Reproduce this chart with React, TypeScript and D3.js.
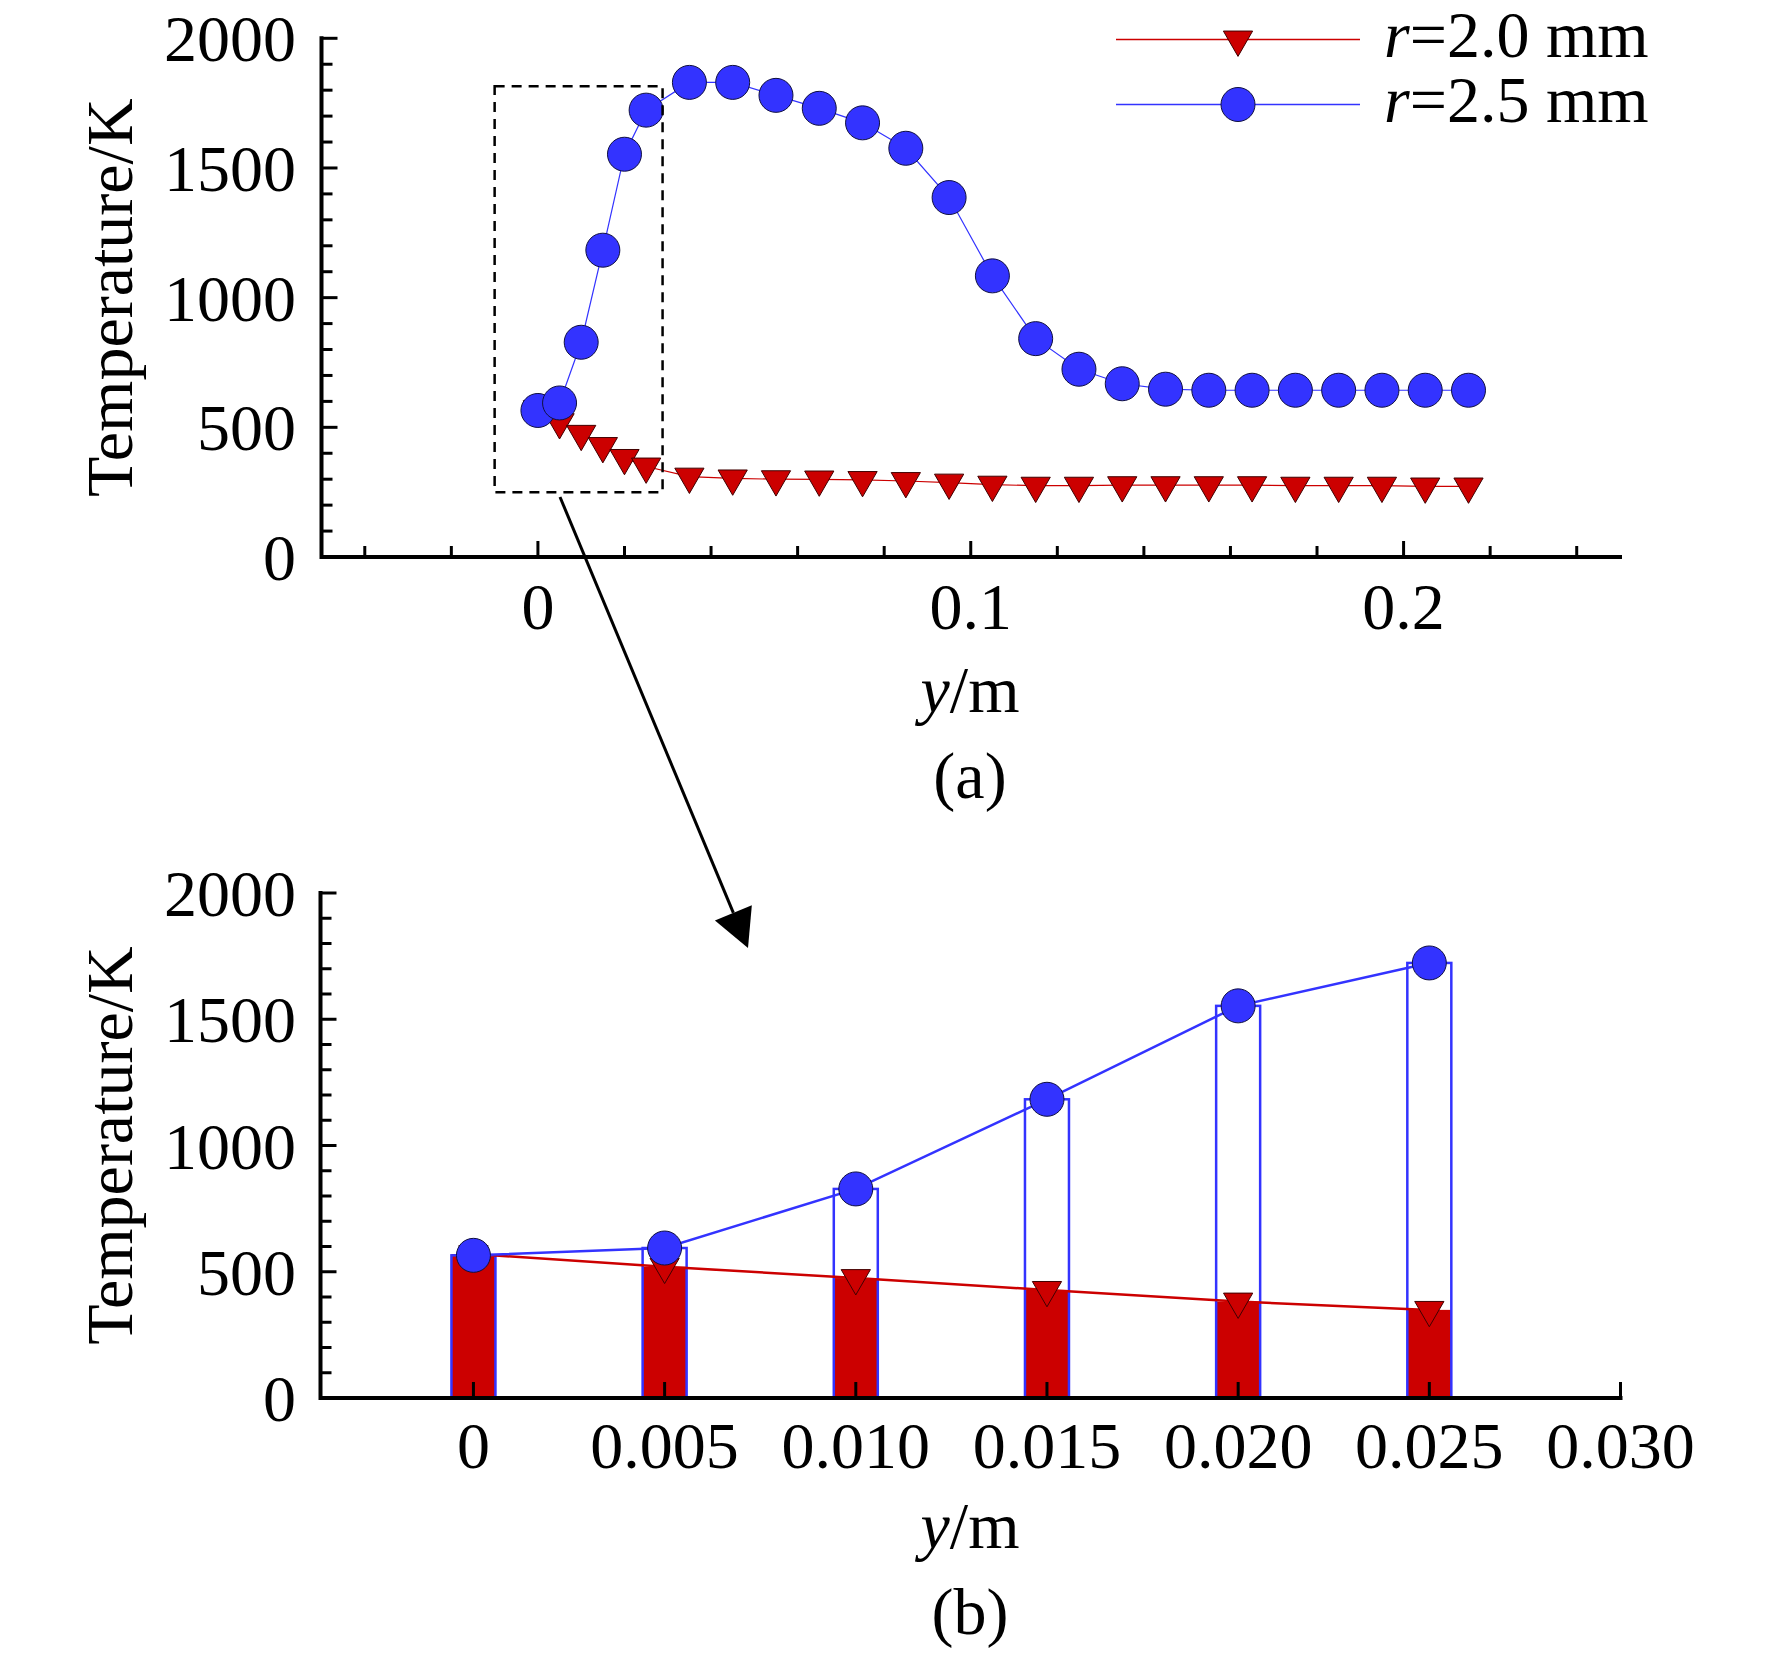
import React from "react";
import * as d3 from "d3";

// positions along y (m)
const yPos = [
  0, 0.005, 0.01, 0.015, 0.02, 0.025, 0.035, 0.045, 0.055, 0.065, 0.075, 0.085,
  0.095, 0.105, 0.115, 0.125, 0.135, 0.145, 0.155, 0.165, 0.175, 0.185, 0.195,
  0.205, 0.215,
];

// temperature for r = 2.5 mm (K)
const tempR25 = [
  565, 594, 828, 1183, 1553, 1723, 1830, 1830, 1780, 1730, 1674, 1576, 1386,
  1084, 842, 724, 668, 647, 643, 643, 643, 643, 643, 643, 643,
];

// temperature for r = 2.0 mm (K)
const tempR20 = [
  570, 520, 475, 428, 382, 349, 310, 303, 300, 299, 297, 293, 287, 279, 275,
  275, 277, 277, 277, 277, 275, 275, 275, 272, 272,
];

// number of leading points shown in the zoomed panel (b)
const zoomCount = 6;

const yTicks = [0, 500, 1000, 1500, 2000];
const topXTicks = [0, 0.1, 0.2];
const topXLabels = ["0", "0.1", "0.2"];
const bottomXTicks = [0, 0.005, 0.01, 0.015, 0.02, 0.025, 0.03];
const bottomXLabels = ["0", "0.005", "0.010", "0.015", "0.020", "0.025", "0.030"];

const legendLabels = ["2.0 mm", "2.5 mm"];

// zoom window marked in panel (a), in data units
const zoomBoxX = [-0.01, 0.0288];
const zoomBoxT = [250, 1815];

const FONT = '"Liberation Serif", "Times New Roman", Times, serif';
const RED = "#cc0000";
const BLUE = "#3333ff";
const FS = 66;

const triangle = d3.symbol(d3.symbolTriangle, 370)()!;

function Circle({ cx, cy }: { cx: number; cy: number }) {
  return <circle cx={cx} cy={cy} r={17} fill={BLUE} stroke="#101040" strokeWidth={1} />;
}

function Tri({ cx, cy }: { cx: number; cy: number }) {
  return (
    <path
      d={triangle}
      transform={`translate(${cx},${cy}) rotate(180)`}
      fill={RED}
      stroke="#400000"
      strokeWidth={1}
    />
  );
}

interface AxesProps {
  x: d3.ScaleLinear<number, number>;
  y: d3.ScaleLinear<number, number>;
  xMajor: number[];
  xLabels: string[];
  xMinor: number[];
  labelBase: number;
}

function Axes({ x, y, xMajor, xLabels, xMinor, labelBase }: AxesProps) {
  const [x0, x1] = x.range();
  const [yb, yt] = y.range();
  const yMinor = d3.range(0, 21).map((i) => i * 100).filter((v) => v % 500 !== 0);
  return (
    <g>
      {xMinor.map((v, i) => (
        <line key={"xm" + i} x1={x(v)} x2={x(v)} y1={yb} y2={yb - 11} stroke="#000" strokeWidth={3} />
      ))}
      {xMajor.map((v, i) => (
        <line key={"xM" + i} x1={x(v)} x2={x(v)} y1={yb} y2={yb - 16} stroke="#000" strokeWidth={3} />
      ))}
      {yMinor.map((v, i) => (
        <line key={"ym" + i} x1={x0} x2={x0 + 11} y1={y(v)} y2={y(v)} stroke="#000" strokeWidth={3} />
      ))}
      {yTicks.map((v, i) => (
        <line key={"yM" + i} x1={x0} x2={x0 + 16} y1={y(v)} y2={y(v)} stroke="#000" strokeWidth={3} />
      ))}
      <path
        d={`M${x0},${yt}V${yb}H${x1}`}
        fill="none"
        stroke="#000"
        strokeWidth={4}
        strokeLinecap="square"
      />
      {yTicks.map((v, i) => (
        <text key={"yl" + i} x={296} y={y(v) + 23} textAnchor="end" fontSize={FS} fontFamily={FONT}>
          {v}
        </text>
      ))}
      {xMajor.map((v, i) => (
        <text key={"xl" + i} x={x(v)} y={labelBase} textAnchor="middle" fontSize={FS} fontFamily={FONT}>
          {xLabels[i]}
        </text>
      ))}
      <text
        transform={`translate(132,${(yb + yt) / 2}) rotate(-90)`}
        textAnchor="middle"
        fontSize={FS}
        fontFamily={FONT}
      >
        Temperature/K
      </text>
    </g>
  );
}

function AxisTitle({ cx, base, panel }: { cx: number; base: number; panel: string }) {
  return (
    <g fontSize={FS} fontFamily={FONT} textAnchor="middle">
      <text x={cx} y={base}>
        <tspan fontStyle="italic">y</tspan>/m
      </text>
      <text x={cx} y={base + 86}>
        {panel}
      </text>
    </g>
  );
}

export default function App() {
  // panel (a)
  const xa = d3.scaleLinear().domain([-0.05, 0.25]).range([321.5, 1620]);
  const ya = d3.scaleLinear().domain([0, 2000]).range([557, 38.3]);
  // panel (b)
  const xb = d3.scaleLinear().domain([-0.004, 0.03]).range([320.5, 1620.5]);
  const yb = d3.scaleLinear().domain([0, 2000]).range([1398, 893]);

  const lineA = (vals: number[]) =>
    d3
      .line<number>()
      .x((_, i) => xa(yPos[i]))
      .y((d) => ya(d))(vals)!;
  const lineB = (vals: number[]) =>
    d3
      .line<number>()
      .x((_, i) => xb(yPos[i]))
      .y((d) => yb(d))(vals)!;

  const zR25 = tempR25.slice(0, zoomCount);
  const zR20 = tempR20.slice(0, zoomCount);
  const barW = 44;

  const topMinor = d3
    .range(-2, 13)
    .filter((i) => i % 5 !== 0)
    .map((i) => i * 0.02);

  // arrow from zoom box to panel (b)
  const a0 = [560, 497];
  const tip = [748, 948];
  const dx = tip[0] - a0[0];
  const dy = tip[1] - a0[1];
  const len = Math.hypot(dx, dy);
  const ux = dx / len;
  const uy = dy / len;
  const headL = 38;
  const headW = 20;
  const base = [tip[0] - ux * headL, tip[1] - uy * headL];

  return (
    <svg
      width={1772}
      height={1656}
      style={{ position: "absolute", left: 0, top: 0, background: "#fff" }}
    >
      <rect width={1772} height={1656} fill="#fff" />

      {/* panel (a) */}
      <Axes x={xa} y={ya} xMajor={topXTicks} xLabels={topXLabels} xMinor={topMinor} labelBase={629} />
      <path d={lineA(tempR20)} fill="none" stroke={RED} strokeWidth={1.2} />
      <path d={lineA(tempR25)} fill="none" stroke={BLUE} strokeWidth={1.2} />
      {tempR20.map((v, i) => (
        <Tri key={"ta" + i} cx={xa(yPos[i])} cy={ya(v)} />
      ))}
      {tempR25.map((v, i) => (
        <Circle key={"ca" + i} cx={xa(yPos[i])} cy={ya(v)} />
      ))}
      <rect
        x={xa(zoomBoxX[0])}
        y={ya(zoomBoxT[1])}
        width={xa(zoomBoxX[1]) - xa(zoomBoxX[0])}
        height={ya(zoomBoxT[0]) - ya(zoomBoxT[1])}
        fill="none"
        stroke="#000"
        strokeWidth={2.5}
        strokeDasharray="10,7"
      />
      <AxisTitle cx={970} base={712} panel="(a)" />

      {/* legend */}
      {legendLabels.map((lab, i) => {
        const ly = i === 0 ? 39.5 : 104.5;
        return (
          <g key={"lg" + i}>
            <line x1={1116} x2={1360} y1={ly} y2={ly} stroke={i === 0 ? RED : BLUE} strokeWidth={1.5} />
            {i === 0 ? <Tri cx={1238} cy={ly} /> : <Circle cx={1238} cy={ly} />}
            <text x={1384} y={ly + 17} fontSize={FS} fontFamily={FONT}>
              <tspan fontStyle="italic">r</tspan>={lab}
            </text>
          </g>
        );
      })}

      {/* arrow */}
      <line x1={a0[0]} y1={a0[1]} x2={base[0]} y2={base[1]} stroke="#000" strokeWidth={3} />
      <polygon
        points={`${tip[0]},${tip[1]} ${base[0] - uy * headW},${base[1] + ux * headW} ${base[0] + uy * headW},${base[1] - ux * headW}`}
        fill="#000"
      />

      {/* panel (b) */}
      {zR20.map((v, i) => (
        <rect
          key={"rb" + i}
          x={xb(yPos[i]) - barW / 2}
          y={yb(v)}
          width={barW}
          height={yb(0) - yb(v)}
          fill={RED}
        />
      ))}
      {zR25.map((v, i) => (
        <rect
          key={"bb" + i}
          x={xb(yPos[i]) - barW / 2}
          y={yb(v)}
          width={barW}
          height={yb(0) - yb(v)}
          fill="none"
          stroke={BLUE}
          strokeWidth={2.5}
        />
      ))}
      <Axes x={xb} y={yb} xMajor={bottomXTicks} xLabels={bottomXLabels} xMinor={[]} labelBase={1468} />
      <path d={lineB(zR20)} fill="none" stroke={RED} strokeWidth={2.5} />
      <path d={lineB(zR25)} fill="none" stroke={BLUE} strokeWidth={2.5} />
      {zR20.map((v, i) => (
        <Tri key={"tb" + i} cx={xb(yPos[i])} cy={yb(v)} />
      ))}
      {zR25.map((v, i) => (
        <Circle key={"cb" + i} cx={xb(yPos[i])} cy={yb(v)} />
      ))}
      <AxisTitle cx={970} base={1548} panel="(b)" />
    </svg>
  );
}
